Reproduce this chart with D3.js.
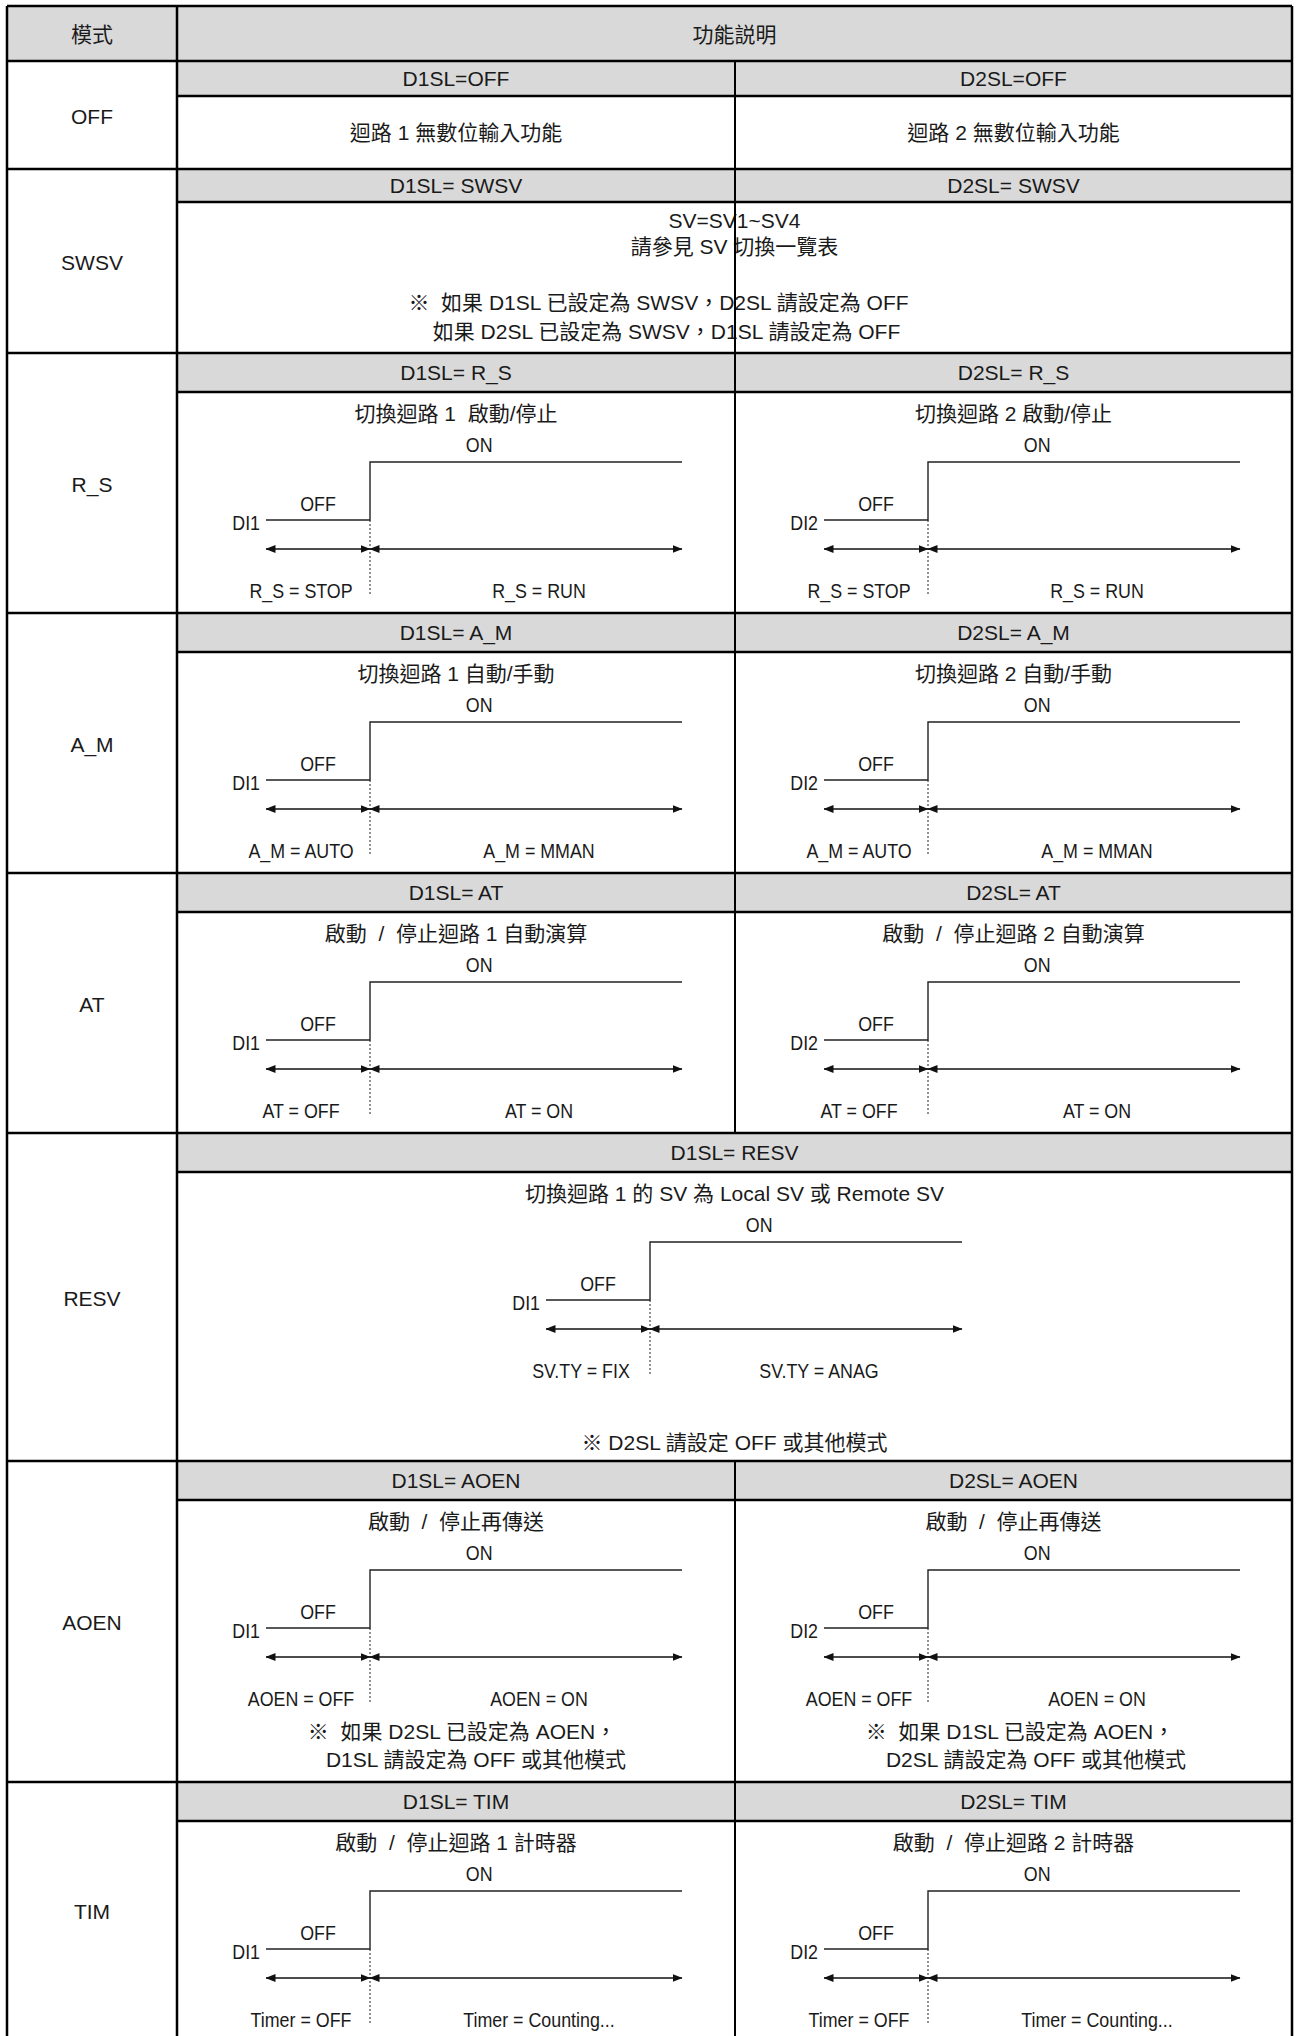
<!DOCTYPE html>
<html><head><meta charset="utf-8">
<script src="https://cdn.jsdelivr.net/npm/d3@7"></script>
<style>
html,body{margin:0;padding:0;background:#fff;}
svg text{font-family:"Liberation Sans","Noto Sans CJK TC",sans-serif;fill:#1a1a1a;white-space:pre;}
</style></head><body>
<svg id="chart" width="1296" height="2036"></svg>
<script>
// ---------------- data ----------------
const headerLabels = ["模式", "功能説明"];
const modes = ["OFF", "SWSV", "R_S", "A_M", "AT", "RESV", "AOEN", "TIM"];
const loop1Headers = ["D1SL=OFF", "D1SL= SWSV", "D1SL= R_S", "D1SL= A_M", "D1SL= AT", "D1SL= RESV", "D1SL= AOEN", "D1SL= TIM"];
const loop2Headers = ["D2SL=OFF", "D2SL= SWSV", "D2SL= R_S", "D2SL= A_M", "D2SL= AT", "", "D2SL= AOEN", "D2SL= TIM"];
const offRowTexts = ["迴路 1 無數位輸入功能", "迴路 2 無數位輸入功能"];
const swsvTexts = ["SV=SV1~SV4", "請參見 SV 切換一覽表"];
const swsvNotes = ["※  如果 D1SL 已設定為 SWSV，D2SL 請設定為 OFF", "如果 D2SL 已設定為 SWSV，D1SL 請設定為 OFF"];
const diagramModes = ["R_S", "A_M", "AT", "RESV", "AOEN", "TIM"];
const loop1Titles = ["切換迴路 1  啟動/停止", "切換迴路 1 自動/手動", "啟動  /  停止迴路 1 自動演算", "切換迴路 1 的 SV 為 Local SV 或 Remote SV", "啟動  /  停止再傳送", "啟動  /  停止迴路 1 計時器"];
const loop2Titles = ["切換迴路 2 啟動/停止", "切換迴路 2 自動/手動", "啟動  /  停止迴路 2 自動演算", "", "啟動  /  停止再傳送", "啟動  /  停止迴路 2 計時器"];
const offStateLabels = ["R_S = STOP", "A_M = AUTO", "AT = OFF", "SV.TY = FIX", "AOEN = OFF", "Timer = OFF"];
const onStateLabels = ["R_S = RUN", "A_M = MMAN", "AT = ON", "SV.TY = ANAG", "AOEN = ON", "Timer = Counting..."];
const inputNames = ["DI1", "DI2"];
const levelNames = ["OFF", "ON"];
const signalTimes = [0, 1, 4];
const signalLevels = [0, 1, 1];
const resvNote = "※ D2SL 請設定 OFF 或其他模式";
const aoenNotes1 = ["※  如果 D2SL 已設定為 AOEN，", "D1SL 請設定為 OFF 或其他模式"];
const aoenNotes2 = ["※  如果 D1SL 已設定為 AOEN，", "D2SL 請設定為 OFF 或其他模式"];

// ---------------- layout ----------------
const xL = 7, xM = 177, xC = 735, xR = 1292;
const rowY = [6, 61, 169, 353, 613, 873, 1133, 1461, 1782, 2060];
const subH = [35, 33, 39, 39, 39, 39, 39, 39];
const FS = 21;
const grey = "#d9d9d9";

const svg = d3.select("#chart");
const defs = svg.append("defs");
defs.append("marker").attr("id", "ah")
  .attr("viewBox", "0 -5 10 10").attr("refX", 9.5).attr("refY", 0)
  .attr("markerUnits", "userSpaceOnUse").attr("markerWidth", 10).attr("markerHeight", 10)
  .attr("orient", "auto-start-reverse")
  .append("path").attr("d", "M0,-4L10,0L0,4Z").attr("fill", "#111");

const gBg = svg.append("g");
const gText = svg.append("g");
const gLines = svg.append("g");

function text(g, x, y, s, anchor) {
  return g.append("text").attr("x", x).attr("y", y).attr("dy", "0.36em")
    .attr("text-anchor", anchor || "middle").attr("font-size", FS).text(s);
}
function narrow(g, x, y, s, anchor) {
  return g.append("text").attr("transform", `translate(${x},${y}) scale(0.85,1)`)
    .attr("dy", "0.36em").attr("text-anchor", anchor || "middle")
    .attr("font-size", FS).text(s);
}
function hline(x1, x2, y, w) {
  gLines.append("line").attr("x1", x1).attr("x2", x2).attr("y1", y).attr("y2", y)
    .attr("stroke", "#000").attr("stroke-width", w || 2.5);
}
function vline(x, y1, y2, w) {
  gLines.append("line").attr("x1", x).attr("x2", x).attr("y1", y1).attr("y2", y2)
    .attr("stroke", "#000").attr("stroke-width", w || 2.5);
}

// header
gBg.append("rect").attr("x", xL).attr("y", rowY[0]).attr("width", xR - xL).attr("height", rowY[1] - rowY[0]).attr("fill", grey);
text(gText, (xL + xM) / 2, (rowY[0] + rowY[1]) / 2 + 1, headerLabels[0]);
text(gText, (xM + xR) / 2, (rowY[0] + rowY[1]) / 2 + 1, headerLabels[1]);

// rows
modes.forEach((m, i) => {
  const top = rowY[i + 1], bot = rowY[i + 2], sh = subH[i];
  gBg.append("rect").attr("x", xM).attr("y", top).attr("width", xR - xM).attr("height", sh).attr("fill", grey);
  text(gText, (xL + xM) / 2, (top + Math.min(bot, 2036 + 10)) / 2 + (m === "TIM" ? -3 : 1), m);
  if (loop2Headers[i]) {
    text(gText, (xM + xC) / 2, top + sh / 2, loop1Headers[i]);
    text(gText, (xC + xR) / 2, top + sh / 2, loop2Headers[i]);
    vline(xC, top, bot, 2);
  } else {
    text(gText, (xM + xR) / 2, top + sh / 2, loop1Headers[i]);
  }
  hline(xM, xR, top + sh, 2.5);
  hline(xL, xR, top, 2.5);
});
hline(xL, xR, rowY[0], 2.5);
vline(xL, rowY[0], 2036);
vline(xM, rowY[0], 2036);
vline(xR, rowY[0], 2036);

// OFF row texts
text(gText, (xM + xC) / 2, 132, offRowTexts[0]);
text(gText, (xC + xR) / 2, 132, offRowTexts[1]);

// SWSV texts
const cMid = (xM + xR) / 2;
text(gText, cMid, 220, swsvTexts[0]);
text(gText, cMid, 246, swsvTexts[1]);
text(gText, cMid - 76, 302, swsvNotes[0]);
text(gText, cMid - 68, 331, swsvNotes[1]);

// timing diagrams
function diagram(colLeft, rowTop, k, input, title, titleX) {
  const g = gText.append("g");
  const x = d3.scaleLinear().domain([0, 4]).range([colLeft + 89, colLeft + 505]);
  const y = d3.scaleLinear().domain([0, 1]).range([rowTop + 167, rowTop + 109]);
  const pts = signalTimes.map((t, j) => ({ t, v: signalLevels[j] }));
  const line = d3.line().x(d => x(d.t)).y(d => y(d.v)).curve(d3.curveStepAfter);
  text(g, titleX, rowTop + 60, title);
  g.append("path").attr("d", line(pts)).attr("fill", "none").attr("stroke", "#222").attr("stroke-width", 1.4);
  narrow(g, x(2.05), rowTop + 91, levelNames[1]);
  narrow(g, x(0.5), rowTop + 150, levelNames[0]);
  narrow(g, x(0) - 6, rowTop + 169, input, "end");
  // dotted separator
  g.append("line").attr("x1", x(1)).attr("x2", x(1)).attr("y1", y(0)).attr("y2", rowTop + 242)
    .attr("stroke", "#222").attr("stroke-width", 1).attr("stroke-dasharray", "2,2");
  // arrows
  [[0, 1], [1, 4]].forEach(([a, b]) => {
    g.append("line").attr("x1", x(a)).attr("x2", x(b)).attr("y1", rowTop + 196).attr("y2", rowTop + 196)
      .attr("stroke", "#111").attr("stroke-width", 1.6)
      .attr("marker-start", "url(#ah)").attr("marker-end", "url(#ah)");
  });
  narrow(g, x(1) - 69, rowTop + 237, offStateLabels[k]);
  narrow(g, x(1) + 169, rowTop + 237, onStateLabels[k]);
}

diagramModes.forEach((m, k) => {
  const i = modes.indexOf(m);
  const top = rowY[i + 1] + subH[i];
  const rowTop = rowY[i + 1];
  if (loop2Titles[k]) {
    diagram(xM, rowTop, k, inputNames[0], loop1Titles[k], (xM + xC) / 2);
    diagram(xC, rowTop, k, inputNames[1], loop2Titles[k], (xC + xR) / 2);
  } else {
    diagram(650 - 193, rowTop, k, inputNames[0], loop1Titles[k], cMid);
  }
});

// notes
text(gText, cMid, rowY[6] + 309, resvNote);
text(gText, xM + 285, rowY[7] + 270, aoenNotes1[0]);
text(gText, xM + 299, rowY[7] + 298, aoenNotes1[1]);
text(gText, xC + 285, rowY[7] + 270, aoenNotes2[0]);
text(gText, xC + 301, rowY[7] + 298, aoenNotes2[1]);
</script>
</body></html>
